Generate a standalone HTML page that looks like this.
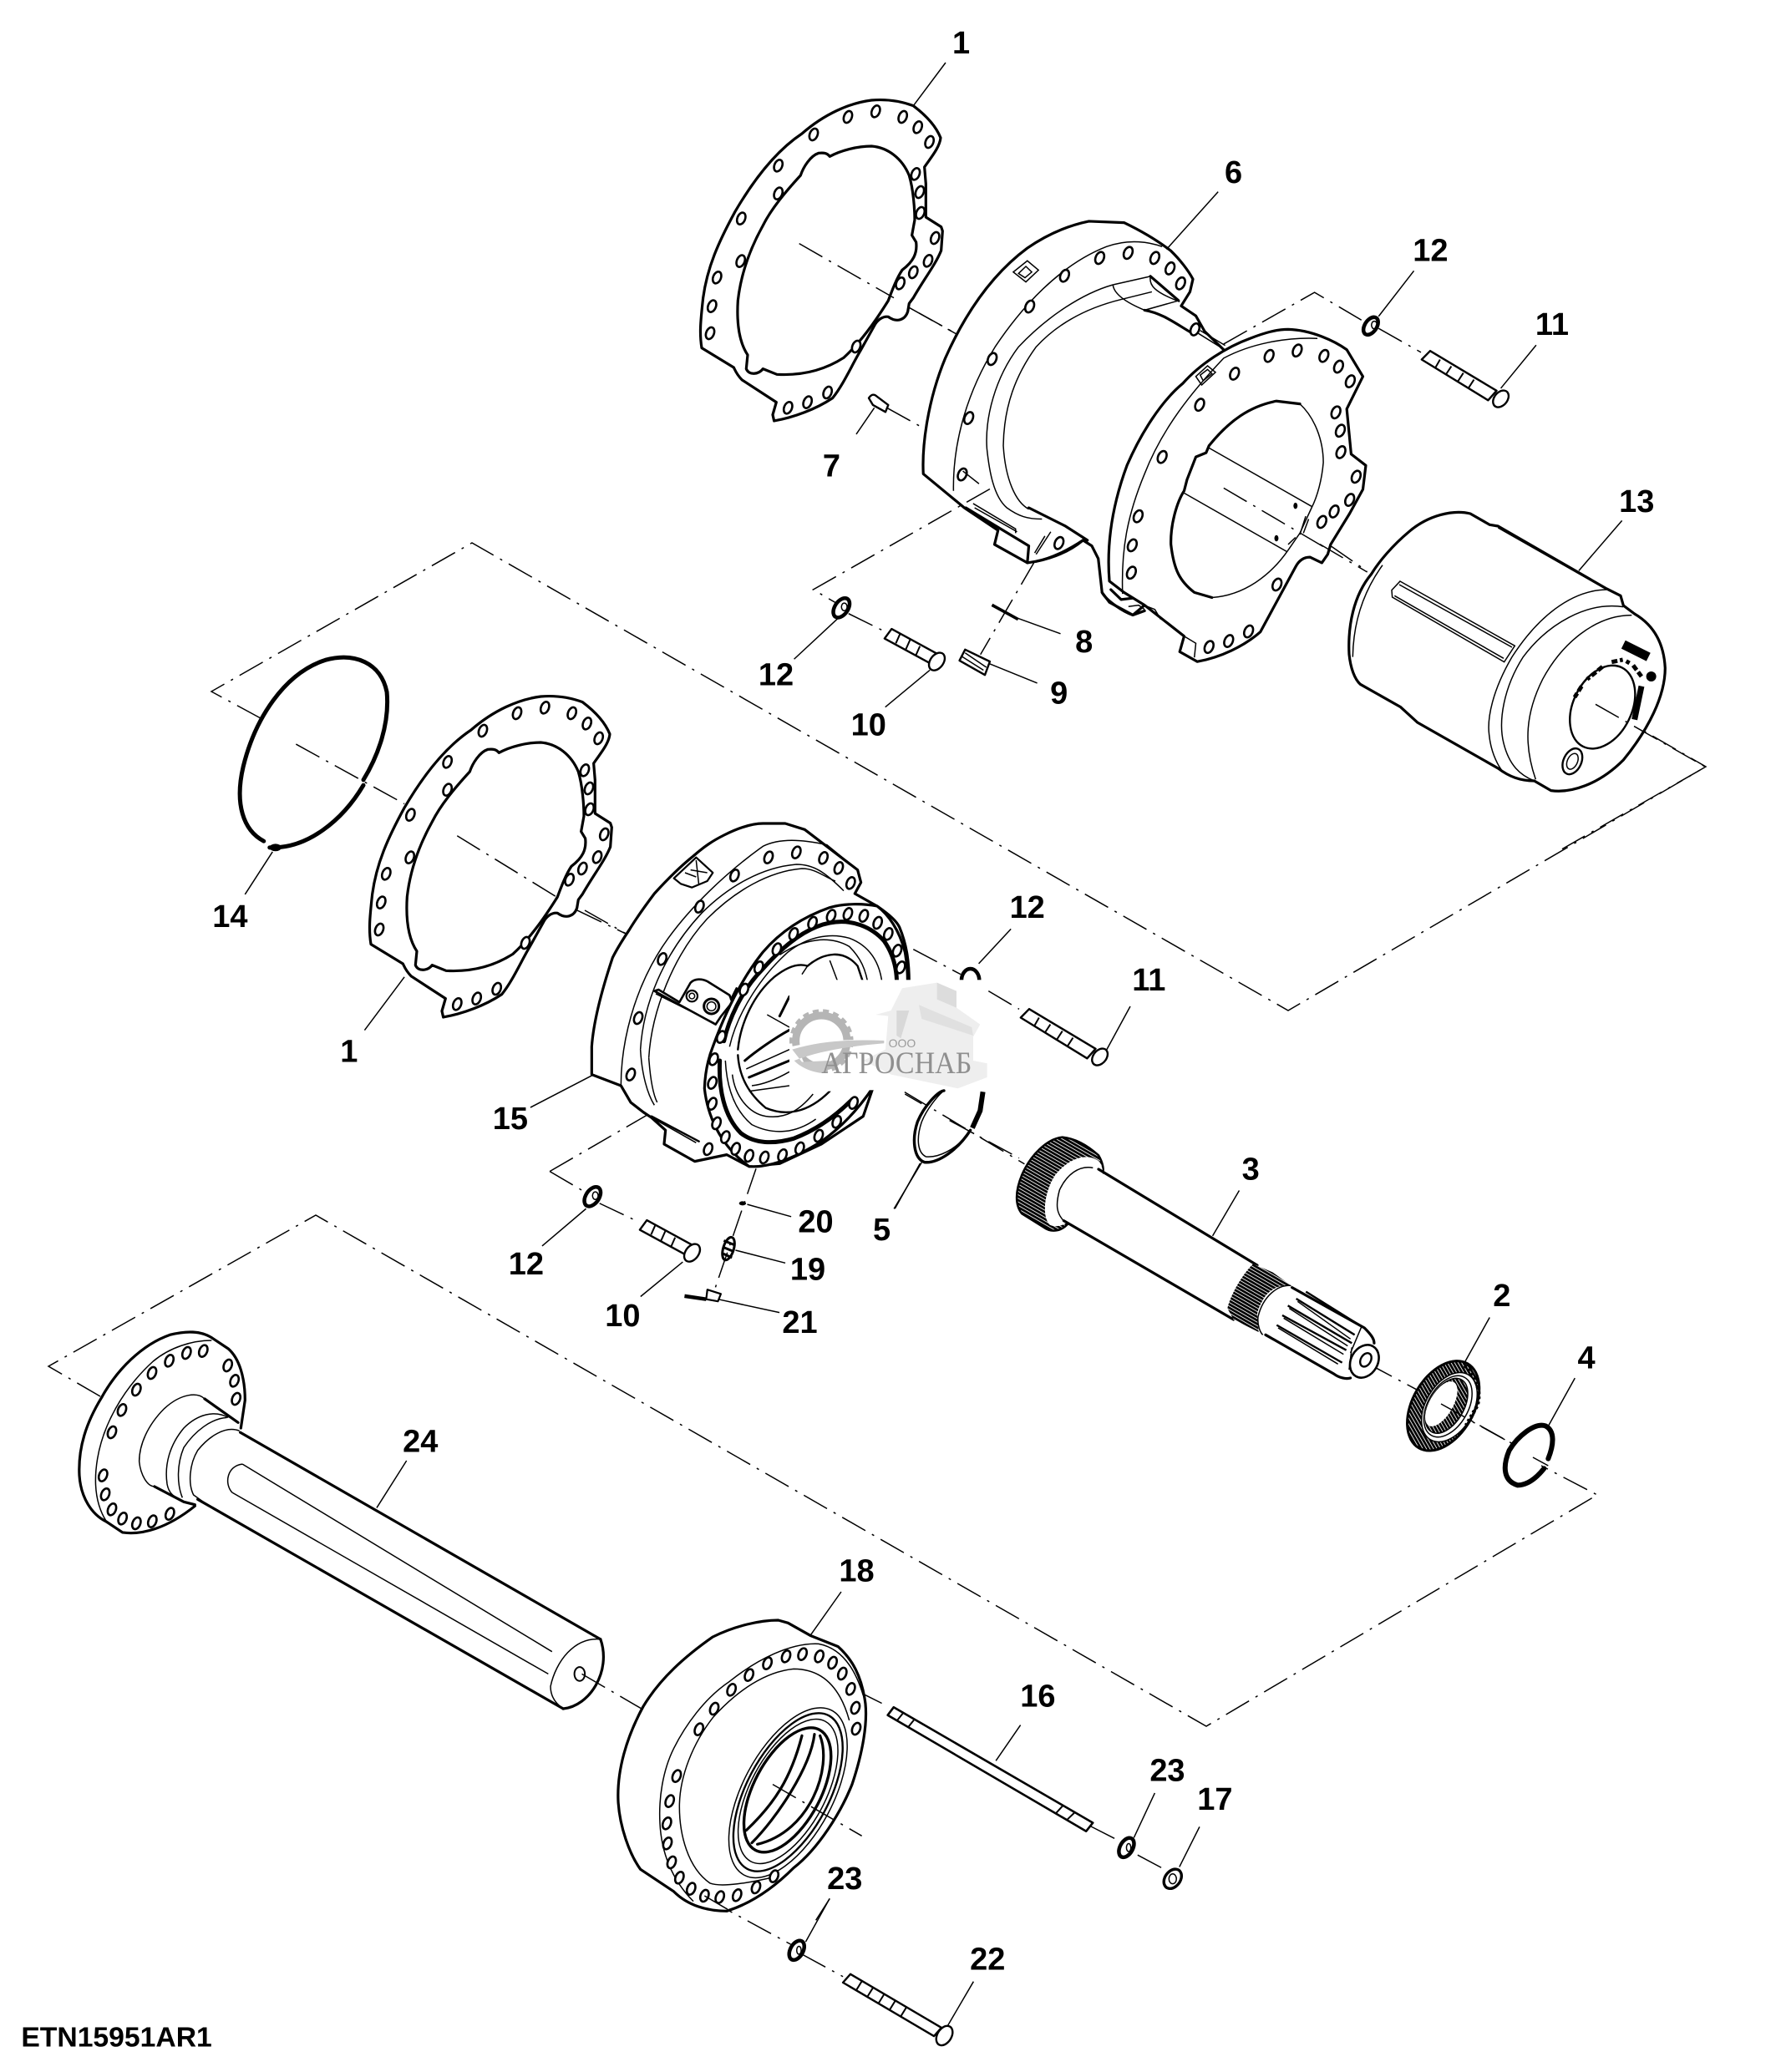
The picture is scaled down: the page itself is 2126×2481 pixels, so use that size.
<!DOCTYPE html>
<html><head><meta charset="utf-8"><style>
html,body{margin:0;padding:0;background:#fff}
svg{display:block}
path,ellipse,line,circle,rect,polygon{vector-effect:non-scaling-stroke}
.a{fill:none;stroke:#000;stroke-width:3.2;stroke-linejoin:round;stroke-linecap:round}
.f{fill:#fff;stroke:#000;stroke-width:3.2;stroke-linejoin:round}
.n{fill:none;stroke:#000;stroke-width:1.5}
.l{fill:none;stroke:#000;stroke-width:1.5}
.d{fill:none;stroke:#000;stroke-width:1.5;stroke-dasharray:32 9 3 9}
.h{fill:#fff;stroke:#000;stroke-width:2.6}
</style></head><body>
<svg xmlns="http://www.w3.org/2000/svg" width="2126" height="2481" viewBox="0 0 2126 2481">
<rect width="2126" height="2481" fill="#fff"/>
<defs>
<ellipse id="h5" class="h" rx="14" ry="22" transform="rotate(22)"/>
<pattern id="st" width="11" height="11" patternUnits="userSpaceOnUse" patternTransform="rotate(30)"><rect width="11" height="11" fill="#000"/><rect y="4" width="11" height="2.6" fill="#fff"/></pattern>
</defs>

<!-- big frames -->
<path class="d" d="M312,860 L253,828 L565,650 L1542,1210 L2042,918 L1950,865"/>
<path class="d" d="M120,1672 L58,1636 L378,1455 L1444,2067 L1912,1790 L1845,1755"/>

<!-- gasket 1 (upper) -->
<g id="gasket" transform="translate(830,100) scale(.3333)">
<path class="a" d="M30,950 C22,900 25,860 35,770 C50,660 90,570 150,460 C220,340 300,240 390,180 C470,110 560,70 640,60 C700,55 750,65 790,80 C830,110 870,150 888,195 C885,230 850,270 830,300 L835,360 L835,480 L890,515 L895,530 L890,600 C870,650 830,700 790,770 L775,790 L770,820 C760,850 730,860 700,838 C680,835 660,850 650,870 L600,960 C570,1010 540,1080 500,1130 C440,1170 360,1200 290,1212 L285,1190 L298,1145 L175,1065 C155,1045 150,1030 145,1020 L30,950 Z"/>
<path class="a" d="M490,262 C530,240 590,225 640,225 C700,230 750,270 775,330 C790,380 795,450 795,490 L785,545 L800,570 C805,610 790,640 750,670 C730,700 715,740 700,780 C650,860 600,930 540,985 C470,1030 390,1050 300,1045 L250,1025 C235,1045 200,1050 190,1025 L195,975 C165,930 155,860 160,780 C170,690 200,600 250,510 C280,450 330,390 385,330 C395,300 420,260 450,250 C470,248 480,250 490,262 Z"/>
<use href="#h5" x="555" y="120"/><use href="#h5" x="655" y="100"/><use href="#h5" x="752" y="120"/><use href="#h5" x="806" y="157"/><use href="#h5" x="848" y="210"/><use href="#h5" x="432" y="183"/><use href="#h5" x="305" y="295"/><use href="#h5" x="305" y="395"/><use href="#h5" x="172" y="485"/><use href="#h5" x="170" y="638"/><use href="#h5" x="85" y="697"/><use href="#h5" x="67" y="800"/><use href="#h5" x="60" y="897"/><use href="#h5" x="798" y="325"/><use href="#h5" x="813" y="390"/><use href="#h5" x="815" y="465"/><use href="#h5" x="868" y="555"/><use href="#h5" x="843" y="637"/><use href="#h5" x="790" y="678"/><use href="#h5" x="743" y="718"/><use href="#h5" x="585" y="945"/><use href="#h5" x="482" y="1110"/><use href="#h5" x="410" y="1145"/><use href="#h5" x="340" y="1165"/>
</g>
<g transform="translate(830,100) scale(.3333)">
<path class="d" d="M380,575 L720,770"/>
<path class="f" style="stroke-width:2.4" d="M630,1130 C640,1115 650,1115 660,1125 L700,1155 L690,1180 L645,1155 Z"/>
<path class="d" d="M695,1165 L830,1240"/>
<path class="l" d="M650,1165 L585,1260 M906,-75 L790,80"/>
</g>
<g transform="translate(830,100) scale(.3333)">
<path class="d" d="M775,805 L945,900"/>
</g>

<!-- part 6 + plate -->
<g transform="translate(1100,270) scale(.3508,.338)">
<path class="f" d="M15,880 C10,780 30,620 90,470 C150,330 240,180 370,80 C440,30 510,0 580,-15 L700,-10 C760,20 810,50 860,90 C890,120 920,160 935,190 L925,235 L895,285 L945,320 L975,375 L1040,440 L1000,1300 L770,1345 L730,1380 L650,1335 L625,1300 L612,1180 L590,1135 L560,1115 C510,1150 450,1180 400,1190 L370,1195 L258,1130 L270,1080 L155,1000 Z"/>
<path class="n" d="M118,940 C115,760 170,580 260,430 C350,290 480,140 640,75 C720,45 790,60 830,75"/>
<path class="n" d="M662,210 C560,240 440,320 340,430 C260,540 225,680 232,790 C240,870 255,960 300,1000 C340,1030 370,1040 420,1040"/>
<path class="n" d="M690,262 C580,290 480,340 400,430 C330,530 290,640 288,780 C295,900 330,980 375,1005"/>
<path class="n" d="M662,210 L790,180 M690,262 L795,235 M662,210 C665,240 700,270 770,300 L890,265 M790,180 C785,210 800,235 890,270"/>
<path class="a" d="M790,180 L885,265 M770,300 C830,310 880,350 930,380 M375,1000 L500,1065 L575,1115 M160,1000 L375,1135 L370,1195 M400,1190 C470,1175 520,1150 560,1115"/>
<path class="n" d="M185,985 L330,1075 L330,1090 M190,1000 L335,1085 M450,1085 L400,1165 M430,1100 L395,1160"/>
<path class="n" d="M322,165 L370,125 L408,158 L365,200 Z M340,170 L365,145 L385,165 L362,185 Z"/>
<use href="#h5" x="617" y="115"/><use href="#h5" x="714" y="97"/><use href="#h5" x="805" y="115"/><use href="#h5" x="857" y="152"/><use href="#h5" x="893" y="205"/><use href="#h5" x="497" y="178"/><use href="#h5" x="378" y="287"/><use href="#h5" x="250" y="473"/><use href="#h5" x="170" y="682"/><use href="#h5" x="148" y="882"/><use href="#h5" x="478" y="1125"/><use href="#h5" x="942" y="368"/>
<path class="d" d="M150,870 L205,915"/>
<path class="d" d="M0,310 L130,385"/>
<path class="n" d="M950,380 L1035,435 M960,372 L1045,425"/>
<path class="f" d="M1260,368 C1340,370 1420,410 1460,440 L1515,535 L1460,650 C1465,700 1470,760 1475,810 L1525,850 L1515,935 L1470,1020 L1405,1130 L1395,1165 L1375,1195 L1335,1175 C1310,1175 1295,1190 1285,1210 L1165,1440 C1110,1490 1030,1530 950,1545 L890,1510 L905,1455 L770,1345 L700,1300 L650,1260 C640,1130 660,990 710,850 C760,730 830,620 900,560 C960,490 1050,430 1130,400 C1180,380 1220,368 1260,368 Z"/>
<path class="n" d="M695,1305 C690,1150 710,1030 770,880 C830,720 930,590 1040,470 C1130,420 1250,395 1360,400"/>
<path class="n" d="M1300,632 C1350,680 1380,760 1380,840 C1375,900 1360,960 1340,1000 L1300,1090 L1260,1150 C1200,1240 1110,1310 1000,1318"/>
<path class="a" d="M1000,1318 L940,1300 C890,1260 870,1220 860,1130 C858,1060 880,980 905,940 L915,900 L945,820 L980,805 L990,780 C1060,690 1130,640 1220,622 L1300,632"/>
<path class="n" d="M990,788 L1340,995 M900,945 L1255,1155"/>
<ellipse cx="1285" cy="993" rx="7" ry="11" fill="#000"/><ellipse cx="1220" cy="1108" rx="7" ry="11" fill="#000"/>
<path class="n" d="M945,535 L985,497 L1012,520 L965,565 Z M960,530 L985,510 L1000,525 L970,550 Z"/>
<path class="n" d="M1320,1030 L1300,1095 M1330,1040 L1312,1090 M1260,1130 L1285,1105"/>
<path class="a" d="M625,1300 C640,1330 700,1370 730,1380 L770,1365 M655,1290 L690,1325 L730,1320"/>
<path class="n" d="M715,1350 L750,1345 L770,1360 M780,1350 L805,1360 L825,1395"/>
<path class="n" d="M905,1455 L945,1480 L940,1530"/>
<use href="#h5" x="1195" y="462"/><use href="#h5" x="1291" y="443"/><use href="#h5" x="1382" y="462"/><use href="#h5" x="1432" y="500"/><use href="#h5" x="1472" y="552"/><use href="#h5" x="1077" y="525"/><use href="#h5" x="958" y="635"/><use href="#h5" x="830" y="820"/><use href="#h5" x="748" y="1030"/><use href="#h5" x="728" y="1133"/><use href="#h5" x="725" y="1230"/><use href="#h5" x="1423" y="662"/><use href="#h5" x="1438" y="727"/><use href="#h5" x="1440" y="803"/><use href="#h5" x="1492" y="890"/><use href="#h5" x="1470" y="972"/><use href="#h5" x="1417" y="1013"/><use href="#h5" x="1375" y="1050"/><use href="#h5" x="1222" y="1272"/><use href="#h5" x="1125" y="1438"/><use href="#h5" x="1057" y="1472"/><use href="#h5" x="990" y="1493"/>
<path class="d" d="M1040,930 L1400,1150"/>
<path class="d" d="M1405,1135 L1530,1225"/>
<path class="d" d="M1040,420 L1350,237 L1510,335"/>
<path class="d" d="M395,1190 L210,1520"/>
</g>

<!-- Z1 fasteners -->
<g transform="translate(800,0) scale(.846,.574)">
<path class="d" d="M455,1020 L205,1230 L240,1260"/>
<path class="d" d="M1005,685 L1065,735"/>
<g id="w1"><ellipse class="a" style="stroke-width:4.5;fill:#fff" cx="994" cy="680" rx="9" ry="19" transform="rotate(18 994 680)"/><ellipse class="n" cx="999" cy="678" rx="4" ry="8"/></g>
<g id="b11"><path class="f" style="stroke-width:2.4" d="M1066,750 L1078,732 L1172,815 L1160,835 Z"/><path style="fill:none;stroke:#000;stroke-width:2" d="M1092,750 L1085,768 M1108,764 L1100,782 M1125,778 L1117,796 M1140,792 L1132,810"/><ellipse class="f" style="stroke-width:2.4" cx="1178" cy="832" rx="10" ry="18" transform="rotate(18 1178 832)"/></g>
<path class="d" d="M255,1280 L310,1320"/>
<g id="w2"><ellipse class="a" style="stroke-width:4.5;fill:#fff" cx="245" cy="1268" rx="10" ry="21" transform="rotate(18 245 1268)"/><ellipse class="n" cx="249" cy="1266" rx="4" ry="8"/></g>
<g id="b10"><path class="f" style="stroke-width:2.4" d="M306,1332 L316,1312 L382,1365 L372,1385 Z"/><path style="fill:none;stroke:#000;stroke-width:2" d="M328,1322 L322,1342 M342,1335 L336,1355 M356,1348 L350,1368"/><ellipse class="f" style="stroke-width:2.4" cx="380" cy="1380" rx="10" ry="19" transform="rotate(18 380 1380)"/></g>
<line x1="458" y1="1262" x2="495" y2="1292" style="stroke:#000;stroke-width:3.6"/>
<path class="f" style="stroke-width:2.4" d="M420,1355 L455,1380 L448,1408 L412,1378 Z"/><path class="n" d="M420,1362 L450,1392 M416,1370 L446,1398"/>
<path class="l" d="M778,400 L705,520 M1055,565 L1005,660 M1228,720 L1178,810 M240,1290 L178,1375 M370,1398 L307,1475 M495,1290 L555,1322 M455,1385 L522,1425"/>
</g>

<!-- part 13 -->
<g transform="translate(1580,600) scale(.3333)">
<path class="f" d="M185,262 C120,340 100,450 105,550 C110,600 125,640 145,658 L290,740 L350,795 L640,960 C680,990 720,1005 770,1005 L830,1040 C900,1050 1000,1020 1090,930 C1180,820 1240,700 1240,600 C1235,500 1190,440 1130,405 L1090,375 L1080,340 L1030,315 L640,90 L610,85 L540,45 C480,30 390,50 320,110 C260,160 210,220 185,262 Z"/>
<path class="n" d="M225,230 C160,320 120,430 118,560"/>
<path class="n" d="M640,96 L1020,312"/>
<path class="n" d="M1030,318 C900,320 780,420 690,560 C620,680 600,780 608,840 C615,910 645,960 660,975"/>
<path class="n" d="M1090,380 C960,360 820,440 730,560 C660,670 640,790 660,870 C680,950 720,985 770,1005"/>
<path class="n" d="M1120,410 C990,410 870,510 800,640 C740,760 730,870 775,1000"/>
<path class="n" d="M288,288 L700,520 L662,578 L260,345 L258,320 Z"/>
<path class="n" d="M285,300 L690,525 M268,340 L660,565"/>
<ellipse class="a" style="stroke-width:2.4" cx="1015" cy="740" rx="105" ry="158" transform="rotate(26 1015 740)"/>
<ellipse class="a" style="stroke-width:2.4" cx="907" cy="935" rx="32" ry="49" transform="rotate(25 907 935)"/>
<ellipse class="n" cx="907" cy="935" rx="18" ry="30" transform="rotate(25 907 935)"/>
<path style="fill:none;stroke:#000;stroke-width:11" d="M1090,515 L1180,560"/>
<path style="fill:none;stroke:#000;stroke-width:5;stroke-dasharray:7 3" d="M1048,578 L1088,570 M1100,575 L1112,582 M1125,590 L1155,630 M1015,595 L960,640 M940,665 L915,705"/>
<circle cx="1190" cy="630" r="18" fill="#000"/>
<path style="fill:none;stroke:#000;stroke-width:7" d="M1155,665 L1130,785"/>
<path class="d" d="M0,155 L170,255"/>
<path class="d" d="M990,730 L1385,955 L870,1250"/>
<path class="l" d="M1085,70 L930,250"/>
</g>

<!-- lower gasket -->
<use href="#gasket" transform="translate(-396,714)"/>

<!-- Z2 items -->
<g transform="translate(200,650) scale(.7015,.6378)">
<path class="a" style="stroke-width:5" d="M335,445 C360,400 380,340 375,280 C365,225 320,205 270,220 C200,245 150,330 130,420 C115,490 130,540 165,560 M175,572 C240,575 300,520 335,455"/>
<ellipse cx="185" cy="572" rx="10" ry="7" fill="#000"/>
<path class="d" d="M220,378 L405,490"/>
<path class="d" d="M495,550 L665,665"/>
<path class="d" d="M700,690 L785,735"/>
<path class="l" d="M180,580 L133,660 M405,815 L337,915 M725,1000 L620,1060 M1440,725 L1385,790 M1285,1165 L1242,1250 M715,1250 L640,1320 M880,1350 L808,1415 M990,1242 L1065,1265 M970,1328 L1055,1352 M940,1420 L1045,1445"/>
<path class="d" d="M1005,1175 L935,1400"/>
<ellipse cx="982" cy="1240" rx="6" ry="4" fill="#000"/>
<ellipse class="a" style="stroke-width:3" cx="958" cy="1325" rx="9" ry="22" transform="rotate(15 958 1325)"/>
<path style="fill:none;stroke:#000;stroke-width:3" d="M950,1310 L968,1318 M948,1322 L966,1330 M948,1334 L964,1342"/>
<path style="fill:none;stroke:#000;stroke-width:4.5" d="M883,1414 L920,1420"/>
<path class="f" style="stroke-width:2.2" d="M922,1402 L945,1410 L940,1424 L920,1420 Z"/>
<path class="d" d="M653,1180 L865,1045 L800,1010"/>
<path class="d" d="M653,1180 L715,1220"/>
<path class="d" d="M738,1240 L805,1275"/>
</g>
<path class="l" d="M1353,1205 L1322,1262"/>

<!-- part 15 -->
<g transform="translate(700,970) scale(.3333)">
<path class="f" d="M25,950 L25,850 C30,780 50,680 100,530 C120,490 140,460 160,430 C190,380 220,340 250,300 C300,245 340,205 390,165 C430,130 460,110 500,90 C550,65 600,48 640,48 L720,48 L790,70 L980,215 L992,260 L970,300 L1050,345 C1100,380 1120,400 1130,420 C1155,480 1165,540 1165,620 L1000,1100 L850,1200 L700,1270 L590,1280 L510,1238 L395,1262 L285,1200 L290,1150 L240,1105 L210,1085 L165,1050 L130,990 Z"/>
<path class="n" d="M130,990 C130,850 170,640 300,460 C380,350 500,230 640,130 C700,100 780,105 870,125 L980,215"/>
<path class="n" d="M200,860 C210,700 280,520 420,370 C520,270 640,205 760,195 C820,195 860,220 930,290"/>
<path class="n" d="M230,890 C240,720 320,520 440,390 C540,290 660,220 780,210 C830,210 860,240 900,255"/>
<path class="n" d="M200,860 C205,950 225,1020 250,1060"/>
<path class="n" d="M230,890 C235,960 245,1020 260,1050"/>
<path class="a" style="stroke-width:2.4" d="M25,950 L130,990 M240,1100 L410,1190"/>
<path class="n" d="M250,1110 L400,1195"/>
<path class="f" style="stroke-width:2.2" d="M400,170 L460,225 L440,255 L385,278 L345,265 L320,245 Z"/>
<path class="n" d="M380,215 L440,225 M400,180 L410,270 M360,225 L400,240"/>
<path class="f" style="stroke-width:2.6" d="M250,650 L470,770 L490,740 L530,690 L520,665 L440,615 C420,605 395,605 380,620 L340,690 L265,645 Z"/>
<path class="n" d="M255,660 L465,765"/>
<circle class="a" style="stroke-width:2.2" cx="385" cy="668" r="20"/><circle class="n" cx="385" cy="668" r="10"/>
<circle class="a" style="stroke-width:3" cx="455" cy="705" r="27"/><circle class="n" cx="455" cy="705" r="16"/>
<path class="a" style="stroke-width:2.4" d="M525,680 L545,640 L555,660 L535,710"/>
<path class="f" d="M430,1000 C440,1090 480,1200 590,1280 C650,1285 740,1260 850,1190 C950,1120 1040,1010 1100,880 C1160,760 1170,620 1150,510 C1130,430 1090,375 1050,345 C1000,335 930,335 880,350 C780,385 700,440 640,510 C560,610 500,740 460,850 C440,900 432,950 430,1000 Z"/>
<path class="a" style="stroke-width:5" d="M500,830 C515,760 560,650 640,570 C720,480 800,420 880,405 C960,390 1030,420 1075,470 C1110,520 1125,580 1120,650 M485,900 C480,1000 500,1100 560,1160 C610,1200 680,1200 750,1180 C830,1150 900,1100 960,1040"/>
<path class="n" d="M520,850 C550,720 640,590 730,510 C800,455 880,440 950,460 C1030,490 1070,560 1070,660"/>
<path class="n" d="M700,520 C790,460 880,450 950,490 C990,530 1010,570 1020,640"/>
<path class="a" style="stroke-width:2.4" d="M550,860 C560,760 610,660 680,600 C730,560 770,550 800,560 C860,510 930,500 980,560 L1000,620"/>
<path class="a" style="stroke-width:2.4" d="M550,880 C555,960 590,1020 650,1070 C720,1100 800,1090 880,1010"/>
<path class="n" d="M505,900 C510,1000 540,1080 600,1130 C680,1170 760,1160 830,1110 M530,950 C540,1030 590,1090 650,1100 C720,1110 770,1080 820,1020"/>
<path class="a" style="stroke-width:3" d="M700,740 L735,670 M575,900 C610,870 680,820 735,790 M590,960 L735,900"/>
<path class="n" d="M580,930 L735,860 M600,990 C650,985 700,960 735,940 M590,1010 L735,990 M780,590 L800,560 M880,540 L910,620"/>
<use href="#h5" x="690" y="500"/><use href="#h5" x="750" y="445"/><use href="#h5" x="818" y="405"/><use href="#h5" x="885" y="380"/><use href="#h5" x="945" y="373"/><use href="#h5" x="1002" y="380"/><use href="#h5" x="1052" y="405"/><use href="#h5" x="1090" y="445"/><use href="#h5" x="1122" y="505"/><use href="#h5" x="1135" y="565"/><use href="#h5" x="625" y="565"/><use href="#h5" x="572" y="645"/><use href="#h5" x="490" y="815"/><use href="#h5" x="463" y="895"/><use href="#h5" x="458" y="980"/><use href="#h5" x="458" y="1055"/><use href="#h5" x="473" y="1125"/><use href="#h5" x="505" y="1175"/><use href="#h5" x="542" y="1217"/><use href="#h5" x="590" y="1242"/><use href="#h5" x="645" y="1248"/><use href="#h5" x="710" y="1240"/><use href="#h5" x="772" y="1215"/><use href="#h5" x="840" y="1170"/><use href="#h5" x="905" y="1120"/><use href="#h5" x="965" y="1052"/>
<use href="#h5" x="660" y="170"/><use href="#h5" x="760" y="152"/><use href="#h5" x="857" y="172"/><use href="#h5" x="912" y="208"/><use href="#h5" x="955" y="262"/><use href="#h5" x="538" y="235"/><use href="#h5" x="412" y="347"/><use href="#h5" x="278" y="535"/><use href="#h5" x="192" y="747"/><use href="#h5" x="165" y="950"/><use href="#h5" x="443" y="1218"/>
<path class="d" d="M0,360 L150,445"/>
<path class="d" d="M655,735 L735,780"/>
<path class="d" d="M1180,500 L1350,590"/>
<ellipse class="a" style="stroke-width:4.5;fill:#fff" cx="1385" cy="612" rx="32" ry="42"/>
<!-- white patch + logo -->
<rect x="735" y="610" width="705" height="396" fill="#fff"/>
<path class="d" d="M1450,650 L1560,715"/>
<path d="M1045,735 L1100,720 L1140,640 L1265,620 L1335,650 L1335,710 L1420,770 L1395,815 L1395,900 L1445,910 L1445,960 L1340,1000 L1100,950 L1000,900 L1080,860 L1090,740 Z" fill="#eeeeee"/>
<path d="M1265,620 L1335,650 L1335,710 L1265,680 Z" fill="#dcdcdc"/>
<path d="M1120,720 L1165,720 L1135,820 L1120,810 Z" fill="#d8d8d8"/>
<path d="M1200,700 L1390,780 L1395,810 L1210,750 Z" fill="#e0e0e0"/>
<circle cx="850" cy="830" r="92" fill="none" stroke="#b5b5b5" stroke-width="9"/>
<circle cx="850" cy="830" r="106" fill="none" stroke="#b5b5b5" stroke-width="6" stroke-dasharray="7 5"/>
<path d="M740,850 C850,825 960,822 1078,828 L1078,838 C960,845 860,860 780,890 C790,925 830,945 860,945 L960,945 L960,1010 L735,1010 L735,850 Z" fill="#fff"/>
<path d="M745,860 C850,828 960,824 1075,828 L1075,838 C960,848 850,862 752,900 C780,930 830,945 860,945 L880,900 L780,905 Z" fill="#c8c8c8"/>
<text x="1120" y="945" text-anchor="middle" textLength="540" lengthAdjust="spacingAndGlyphs" style="font-family:'Liberation Serif',serif;font-size:110px" fill="#8f8f8f">АГРОСНАБ</text>
<text x="1140" y="852" text-anchor="middle" style="font-family:'Liberation Sans',sans-serif;font-size:42px" fill="#9a9a9a">ООО</text>
<!-- ring 5 -->
<path class="a" style="stroke-width:3.4" d="M1385,1150 C1340,1220 1270,1270 1220,1265 C1180,1250 1175,1180 1195,1120 C1220,1060 1270,1010 1290,1008"/>
<path class="n" d="M1370,1170 C1330,1220 1270,1250 1225,1245 C1195,1230 1190,1180 1210,1120 C1230,1070 1270,1025 1285,1012"/>
<path style="fill:none;stroke:#000;stroke-width:6" d="M1430,1012 L1420,1080 L1392,1142"/>
<path class="d" d="M1150,1020 L1210,1055"/>
<path class="d" d="M1310,1115 L1560,1250"/>
</g>

<!-- reused bolts -->
<use href="#b11" transform="translate(-480,788) translate(800,0) scale(.846,.574)"/>
<use href="#w2" transform="translate(-298,705) translate(800,0) scale(.846,.574)"/>
<use href="#b10" transform="translate(-293,708) translate(800,0) scale(.846,.574)"/>

<!-- shaft 3 -->
<g transform="translate(1000,1300) scale(.6378,.3827)">
<path class="d" d="M130,20 L355,245"/>
<path class="d" d="M1000,870 L1090,950"/>
<path class="d" d="M1140,1000 L1270,1120"/>
<path class="l" d="M110,385 L162,240 M758,328 L708,470 M1228,725 L1178,875 M1388,915 L1338,1065"/>
</g>
<g transform="translate(1200,1350) scale(.3333)">
<path fill="url(#st)" stroke="#000" stroke-width="2.5" d="M215,35 C160,40 100,100 70,170 C45,230 45,280 70,310 L150,360 C175,378 215,375 240,340 L360,165 C365,150 360,125 345,100 C300,60 260,40 215,35 Z"/>
<path d="M345,120 C300,90 240,110 190,170 C150,230 140,320 170,350 C200,365 240,340 240,335 L360,165 C360,145 355,130 345,120 Z" fill="#fff"/>
<path d="M325,145 L1035,565 L935,745 L220,335 Z" fill="#fff"/>
<path class="n" d="M325,145 C275,135 230,170 205,225 C190,280 195,310 220,335"/>
<path class="a" d="M345,150 L915,495 M220,335 L830,690"/>
<path fill="url(#st)" d="M900,490 C860,530 820,600 808,650 L830,690 L920,735 L915,670 C925,620 960,580 1040,570 L970,520 Z"/>
<path d="M1035,570 L1330,745 L1355,810 C1340,860 1300,900 1230,905 L930,745 C905,700 920,620 960,590 C985,570 1010,565 1035,570 Z" fill="#fff"/>
<path class="n" d="M1035,568 C985,565 935,610 918,680 C915,710 925,735 935,745"/>
<path class="a" d="M1040,575 L1300,720 C1325,745 1335,760 1335,775 M945,745 L1190,885 C1210,900 1235,905 1250,900"/>
<path style="fill:none;stroke:#000;stroke-width:2.4" d="M1090,590 L1290,715 M1055,615 L1265,745 M1025,640 L1255,775 M1005,675 L1235,800 M985,710 L1220,845"/>
<path class="n" d="M1060,625 L1250,760 M1030,650 L1240,785 M1010,685 L1225,815 M990,720 L1205,850 M1290,715 L1250,810 M1255,790 L1245,870"/>
<ellipse cx="1300" cy="840" rx="48" ry="62" transform="rotate(30 1300 840)" fill="#fff" stroke="#000" stroke-width="2.6"/>
<ellipse class="a" style="stroke-width:2.4" cx="1305" cy="835" rx="18" ry="26" transform="rotate(30 1305 835)"/>
</g>

<!-- bearing 2 / ring 4 -->
<g transform="translate(1640,1600) scale(.3333)">
<ellipse cx="263" cy="250" rx="110" ry="175" transform="rotate(30 263 250)" fill="url(#st)" stroke="#000" stroke-width="3"/>
<ellipse cx="285" cy="255" rx="85" ry="135" transform="rotate(30 285 255)" fill="#fff" stroke="#000" stroke-width="1.5"/>
<ellipse cx="280" cy="252" rx="72" ry="120" transform="rotate(30 280 252)" fill="#fff" stroke="#000" stroke-width="1.5"/>
<ellipse cx="275" cy="250" rx="62" ry="108" transform="rotate(30 275 250)" fill="url(#st)" stroke="#000" stroke-width="1.5"/>
<ellipse cx="256" cy="243" rx="42" ry="90" transform="rotate(30 256 243)" fill="#fff"/>
<path style="fill:none;stroke:#000;stroke-width:4.5;stroke-dasharray:3 3" d="M340,105 C385,150 400,200 385,250 L345,320"/>
<path class="d" d="M255,243 L510,385"/>
<path class="a" style="stroke-width:6" d="M640,440 C660,390 665,340 630,322 C590,310 530,360 500,410 C475,470 480,520 530,535 C570,535 605,500 625,475"/>
<path class="d" d="M585,435 L640,465"/>
</g>

<!-- part 24 -->
<g transform="translate(90,1590) scale(.3333)">
<path class="a" d="M95,250 C40,340 10,430 15,530 C20,610 60,670 110,695 L170,735 C240,745 330,720 430,640 M95,250 C150,150 240,60 340,25 C400,10 450,10 490,35 L550,75 C590,110 610,180 610,260 L595,360"/>
<path class="n" d="M115,700 C75,640 65,560 80,470 C100,350 170,220 280,120 C340,70 420,45 490,45"/>
<path class="n" d="M465,255 C440,230 380,235 320,290 C260,350 230,420 230,480 C235,530 260,570 285,570"/>
<path class="a" d="M465,255 L585,340 M285,570 L390,625 L430,635"/>
<path class="n" d="M550,322 C500,295 440,310 390,360 C340,420 320,490 330,560 C335,590 350,605 375,615 M545,322 C490,325 430,370 390,430 C365,490 365,560 385,610 M590,370 C540,350 480,390 440,440 C410,490 405,560 425,600 L460,625"/>
<use href="#h5" x="460" y="83"/><use href="#h5" x="400" y="90"/><use href="#h5" x="338" y="118"/><use href="#h5" x="276" y="162"/><use href="#h5" x="220" y="222"/><use href="#h5" x="168" y="295"/><use href="#h5" x="132" y="375"/><use href="#h5" x="100" y="530"/><use href="#h5" x="108" y="598"/><use href="#h5" x="132" y="652"/><use href="#h5" x="170" y="685"/><use href="#h5" x="220" y="702"/><use href="#h5" x="277" y="695"/><use href="#h5" x="340" y="668"/><use href="#h5" x="548" y="135"/><use href="#h5" x="572" y="190"/><use href="#h5" x="578" y="255"/>
</g>
<g transform="translate(0,1550) scale(.893,.594)">
<path class="a" d="M322,278 L805,695 M265,413 L755,835"/>
<path class="a" d="M805,695 C820,760 790,830 755,835"/>
<path class="n" d="M805,695 C770,690 745,740 738,790 C738,810 745,825 755,835"/>
<path class="n" d="M325,342 L740,720 M311,399 L735,765 M325,342 C305,345 300,380 311,399"/>
<ellipse class="a" style="stroke-width:2" cx="777" cy="765" rx="7" ry="14"/>
<path class="d" d="M780,765 L860,835"/>
<path class="d" d="M1150,800 L1190,830"/>
<path class="d" d="M950,1220 L1060,1310"/>
<path class="d" d="M1075,1330 L1130,1375"/>
<path class="d" d="M1462,1072 L1505,1105"/>
<path class="d" d="M1525,1130 L1565,1162"/>
<path class="f" style="stroke-width:2.6" d="M1190,848 L1198,832 L1465,1065 L1456,1082 Z"/>
<path style="fill:none;stroke:#000;stroke-width:2" d="M1210,845 L1203,858 M1225,858 L1218,871 M1425,1030 L1416,1045 M1440,1045 L1431,1058"/>
<ellipse class="a" style="stroke-width:4.5;fill:#fff" cx="1510" cy="1115" rx="9" ry="20" transform="rotate(15 1510 1115)"/><ellipse class="n" cx="1513" cy="1115" rx="3" ry="8"/>
<ellipse class="a" style="stroke-width:4.5;fill:#fff" cx="1068" cy="1322" rx="9" ry="20" transform="rotate(15 1068 1322)"/><ellipse class="n" cx="1071" cy="1322" rx="3" ry="8"/>
<ellipse class="a" style="stroke-width:3.4;fill:#fff" cx="1572" cy="1178" rx="11" ry="20" transform="rotate(15 1572 1178)"/><ellipse class="n" cx="1572" cy="1178" rx="5" ry="10"/>
<path class="f" style="stroke-width:2.4" d="M1130,1387 L1140,1370 L1262,1478 L1252,1495 Z"/>
<path style="fill:none;stroke:#000;stroke-width:2" d="M1155,1385 L1148,1402 M1170,1398 L1163,1415 M1185,1411 L1178,1428 M1200,1424 L1193,1441 M1215,1437 L1208,1454"/>
<ellipse class="f" style="stroke-width:2.4" cx="1266" cy="1494" rx="10" ry="20" transform="rotate(15 1266 1494)"/>
<path class="l" d="M545,335 L505,430 M1368,868 L1335,940 M1548,1005 L1520,1095 M1112,1218 L1080,1305 M1305,1385 L1270,1475 M1608,1073 L1581,1154"/>
</g>

<!-- part 18 -->
<g transform="translate(730,1930) scale(.3333)">
<path class="f" d="M605,30 C540,30 450,50 370,90 C270,160 180,240 120,340 C60,450 25,570 30,680 C35,770 70,870 110,925 L230,1005 C280,1055 350,1075 420,1075 C500,1050 580,1000 660,920 C750,850 830,720 870,620 C910,500 925,400 918,330 C905,230 870,170 820,125 L720,85 L640,40 Z"/>
<path class="n" d="M910,300 C880,200 830,130 750,115 C650,110 530,170 430,250 C340,310 270,410 230,490 C190,570 175,670 180,760 C185,860 220,960 300,1040"/>
<path class="n" d="M860,390 C830,280 770,205 660,205 C560,215 460,280 370,380 C300,470 250,590 250,700 C250,800 280,920 360,975 C400,990 500,975 600,950"/>
<ellipse class="n" cx="640" cy="650" rx="162" ry="335" transform="rotate(28 640 650)" style="fill:#fff"/>
<ellipse class="a" cx="640" cy="648" rx="148" ry="312" transform="rotate(28 640 648)" style="stroke-width:2.4"/>
<ellipse class="n" cx="640" cy="645" rx="135" ry="285" transform="rotate(28 640 645)"/>
<ellipse class="a" cx="638" cy="640" rx="120" ry="245" transform="rotate(28 638 640)" style="stroke-width:3.4"/>
<path class="a" d="M735,440 C720,560 600,740 510,830 M690,445 C650,600 590,690 490,785 M755,445 C800,560 720,790 530,835"/>
<use href="#h5" x="692" y="152"/><use href="#h5" x="633" y="160"/><use href="#h5" x="752" y="160"/><use href="#h5" x="566" y="185"/><use href="#h5" x="500" y="227"/><use href="#h5" x="437" y="280"/><use href="#h5" x="375" y="348"/><use href="#h5" x="320" y="422"/><use href="#h5" x="800" y="183"/><use href="#h5" x="835" y="222"/><use href="#h5" x="865" y="277"/><use href="#h5" x="882" y="345"/><use href="#h5" x="885" y="420"/><use href="#h5" x="240" y="590"/><use href="#h5" x="215" y="680"/><use href="#h5" x="205" y="760"/><use href="#h5" x="207" y="832"/><use href="#h5" x="222" y="900"/><use href="#h5" x="250" y="955"/><use href="#h5" x="292" y="995"/><use href="#h5" x="340" y="1020"/><use href="#h5" x="395" y="1025"/><use href="#h5" x="457" y="1018"/><use href="#h5" x="525" y="990"/><use href="#h5" x="590" y="950"/>
<path class="d" d="M585,620 L905,805"/>
<path class="d" d="M340,1020 L425,1070"/>
<path class="l" d="M831,-72 L720,85 M790,1030 L740,1108"/>
</g>

<!-- labels -->
<g transform="translate(0,-1) scale(1.5826,1.5826)">
<g style="font-family:'Liberation Sans',sans-serif;font-weight:bold;font-size:24px;text-anchor:middle;fill:#000">
<text x="727" y="41">1</text><text x="933" y="139">6</text><text x="1082" y="198">12</text><text x="1174" y="254">11</text><text x="629" y="361">7</text><text x="1238" y="388">13</text><text x="820" y="494">8</text><text x="587" y="519">12</text><text x="801" y="533">9</text><text x="657" y="557">10</text><text x="174" y="702">14</text><text x="777" y="695">12</text><text x="869" y="750">11</text><text x="264" y="804">1</text><text x="386" y="855">15</text><text x="946" y="893">3</text><text x="617" y="933">20</text><text x="667" y="939">5</text><text x="398" y="965">12</text><text x="611" y="969">19</text><text x="1136" y="989">2</text><text x="471" y="1004">10</text><text x="605" y="1009">21</text><text x="1200" y="1036">4</text><text x="318" y="1099">24</text><text x="648" y="1197">18</text><text x="785" y="1292">16</text><text x="883" y="1348">23</text><text x="919" y="1370">17</text><text x="639" y="1430">23</text><text x="747" y="1491">22</text>
<text x="16" y="1549" style="text-anchor:start;font-size:21.3px">ETN15951AR1</text>
</g>
</g>
</svg>
</body></html>
